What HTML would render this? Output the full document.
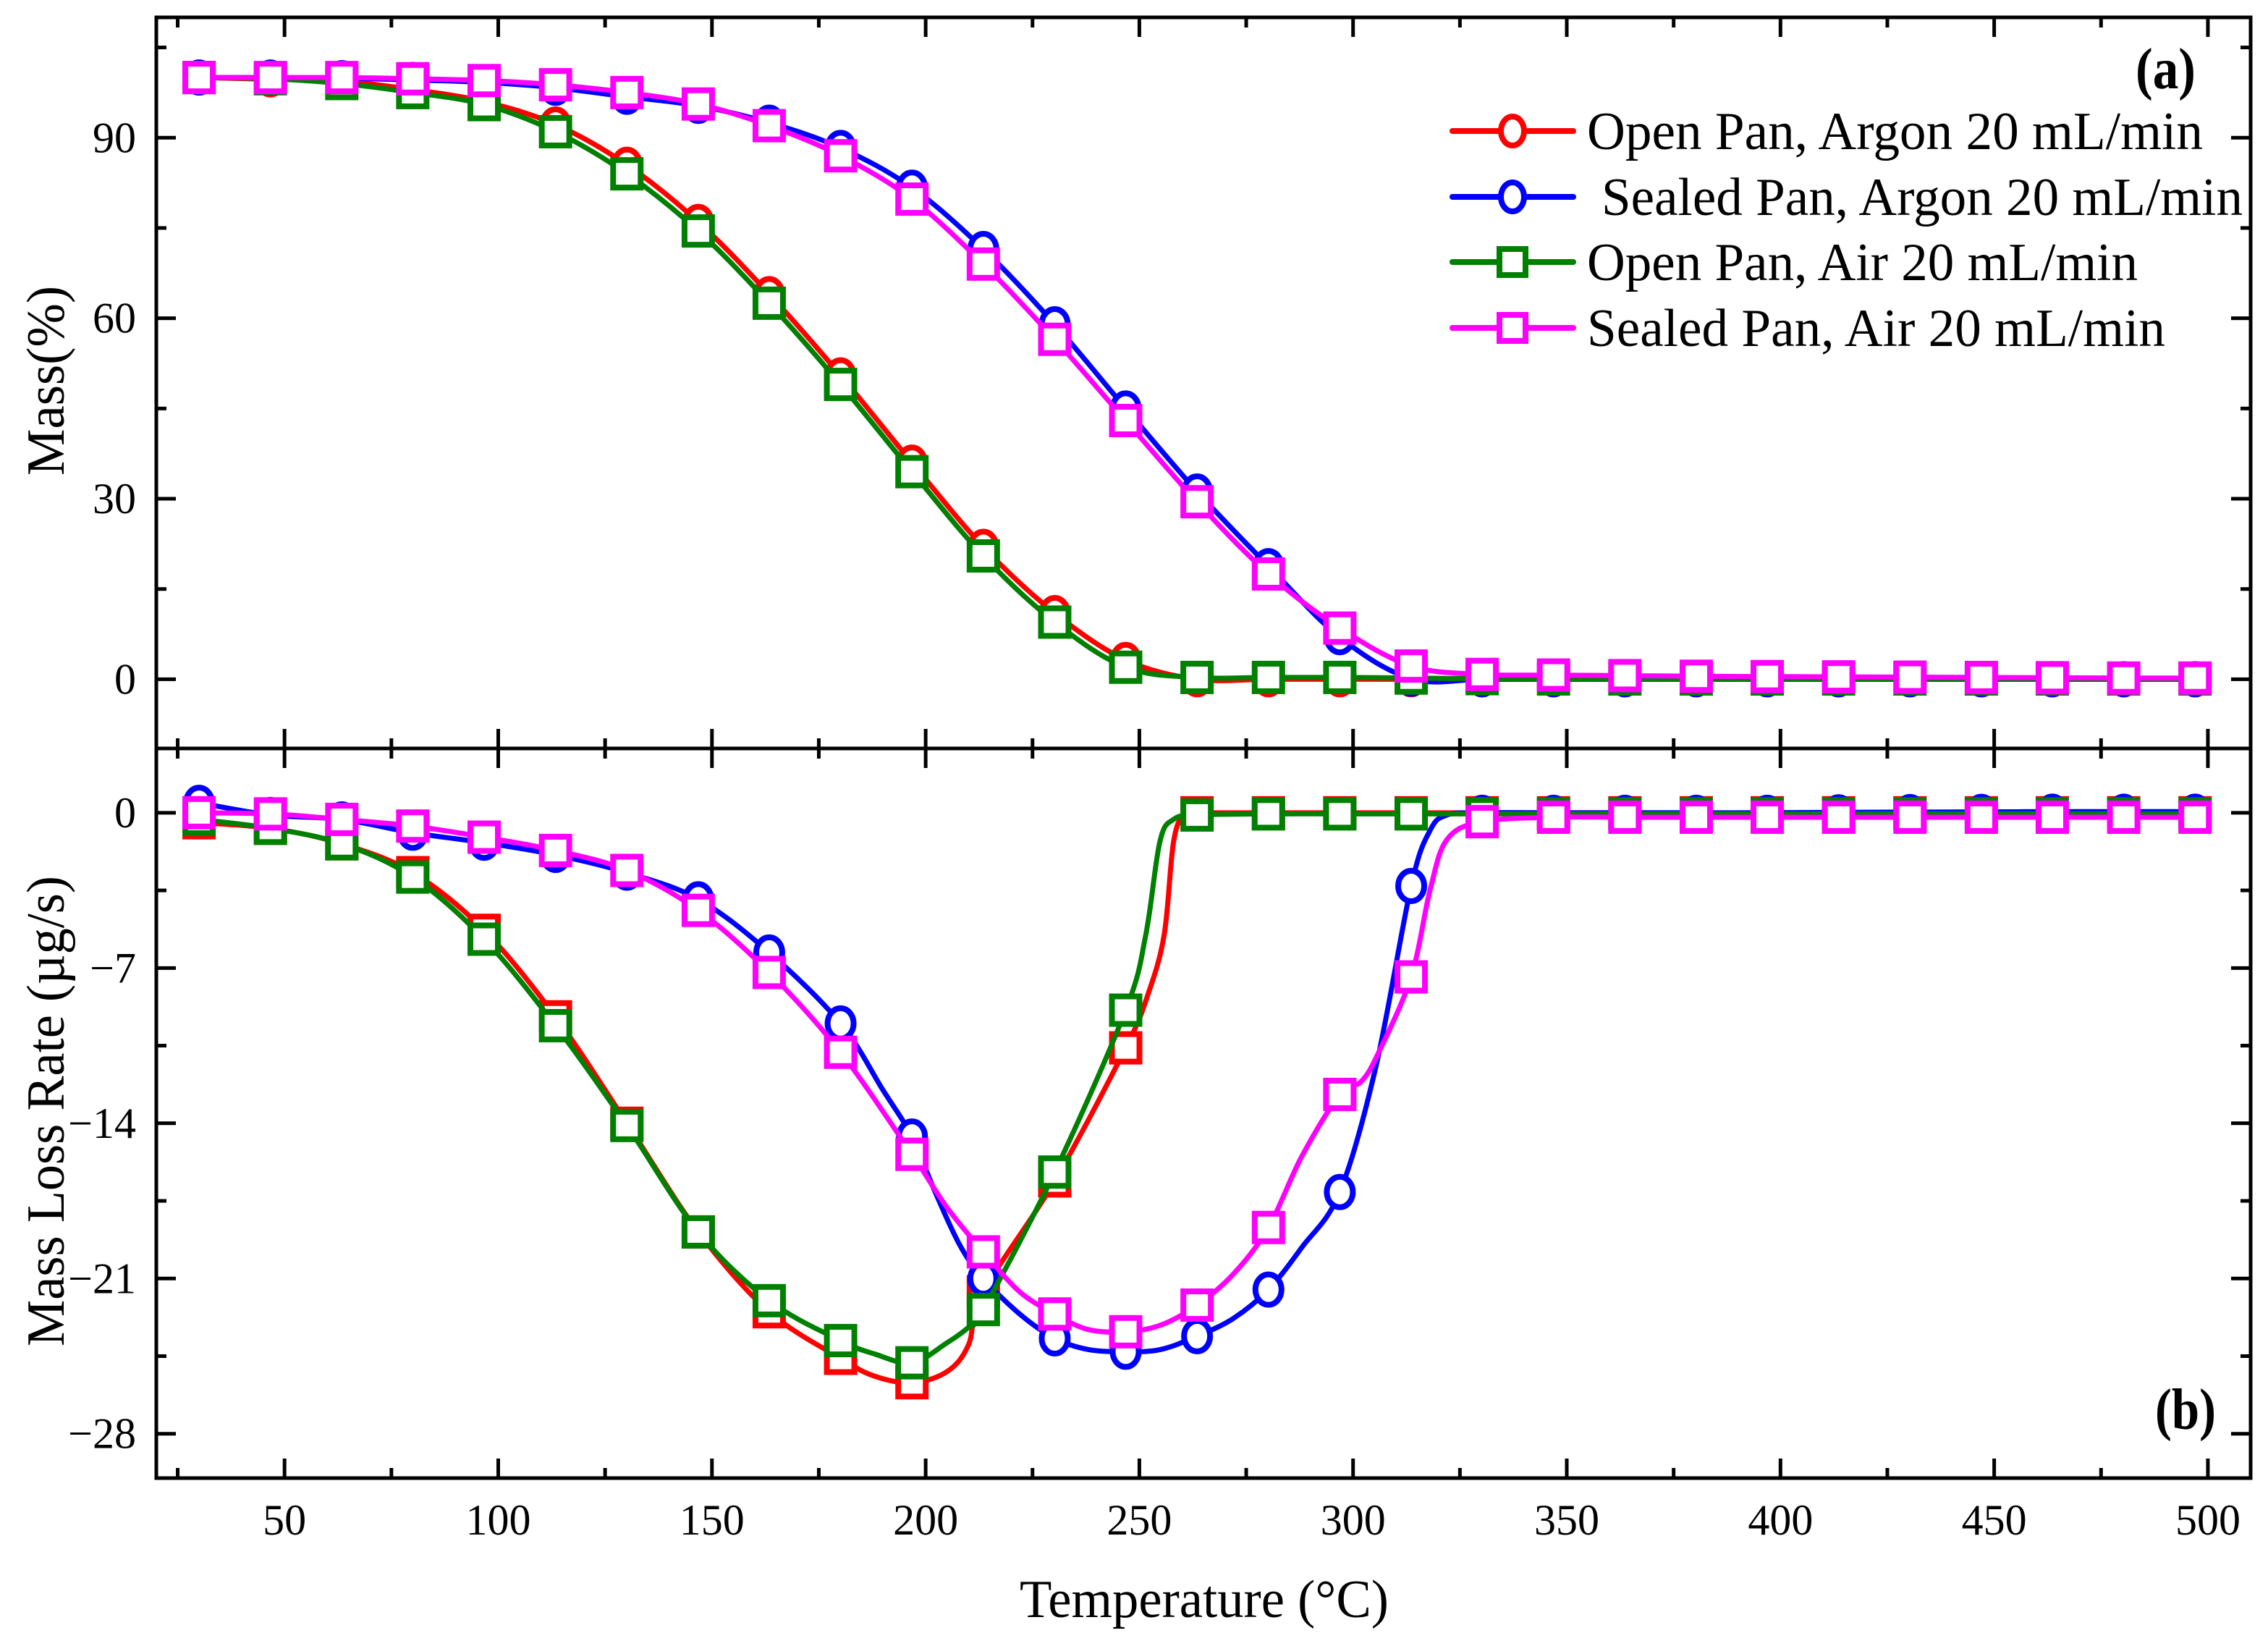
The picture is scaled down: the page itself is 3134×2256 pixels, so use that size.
<!DOCTYPE html>
<html><head><meta charset="utf-8">
<style>
html,body{margin:0;padding:0;background:#fff;}
svg{display:block;font-family:"Liberation Serif",serif;}
</style></head>
<body>
<svg id="chart" width="3134" height="2256" viewBox="0 0 3134 2256" xmlns="http://www.w3.org/2000/svg">
<rect x="0" y="0" width="3134" height="2256" fill="#fff"/>
<g id="plot"></g>
<g id="axes"></g>
<text x="1664" y="2234" font-size="74" text-anchor="middle" textLength="510" lengthAdjust="spacingAndGlyphs">Temperature (°C)</text>
<text transform="translate(88,526) rotate(-90)" font-size="74" text-anchor="middle" textLength="262" lengthAdjust="spacingAndGlyphs">Mass(%)</text>
<text transform="translate(88,1535) rotate(-90)" font-size="74" text-anchor="middle" textLength="650" lengthAdjust="spacingAndGlyphs">Mass Loss Rate (µg/s)</text>
<text x="2951" y="122" font-size="80" font-weight="bold" textLength="83" lengthAdjust="spacingAndGlyphs">(a)</text>
<text x="2978" y="1974" font-size="80" font-weight="bold" textLength="84" lengthAdjust="spacingAndGlyphs">(b)</text>
<g id="legend"></g>
</svg>
<script>
const markerT=[30,46.7,63.4,80,96.7,113.4,130.1,146.8,163.4,180.1,196.8,213.5,230.2,246.8,263.5,280.2,296.9,313.6,330.2,346.9,363.6,380.3,396.9,413.6,430.3,447.0,463.6,480.3,497.0];
// Top panel mass (%), at markerT
const massRed=[100,99.7,99.4,98,96,92.2,85.5,76,64,50.5,36,22,11,3.2,0,0,0,0,0,0,0,0,0,0,0,0,0,0,0];
const massBlue=[100,100,99.9,99.6,99.2,98.3,96.8,95.3,92.5,88.3,81.7,71.5,59,45,31.2,18.8,7,0.1,0,0,0,0,0,0,0,0,0,0,0];
const massGreen=[100,99.8,99,97.5,95.5,91,84,74.5,62.5,49,34.5,20.5,9.5,2,0.3,0.3,0.3,0.2,0.1,0.05,0.05,0.05,0.05,0.05,0.05,0.05,0.05,0.05,0.05];
const massMag=[100,100,100,99.8,99.5,98.8,97.5,95.6,92,87,79.8,69,56.5,43,29.5,17.5,8.5,2.2,0.8,0.7,0.6,0.5,0.45,0.4,0.35,0.3,0.25,0.2,0.2];
// Bottom panel rate (µg/s)
const rateRedT=[30,46.7,63.4,80,96.7,113.4,130.1,146.8,163.4,180.1,188,196.8,205,210,213.5,230.2,246.8,252,255.8,258,260.5,263.5,280.2,296.9,313.6,330.2,346.9,363.6,380.3,396.9,413.6,430.3,447.0,463.6,480.3,497.0];
const rateRed=[-0.45,-0.7,-1.4,-2.7,-5.3,-9.2,-14.0,-18.9,-22.5,-24.6,-25.4,-25.7,-25.2,-24.0,-21.6,-16.6,-10.6,-8.2,-5.5,-1.3,-0.05,0,0,0,0,0,0,0,0,0,0,0,0,0,0,0];
const rateGreenT=[30,46.7,63.4,80,96.7,113.4,130.1,146.8,163.4,180.1,188,196.8,205,210,213.5,230.2,246.8,251.5,254.8,258,263.5,280.2,296.9,313.6,330.2,346.9,363.6,380.3,396.9,413.6,430.3,447.0,463.6,480.3,497.0];
const rateGreen=[-0.3,-0.7,-1.4,-2.9,-5.7,-9.6,-14.1,-18.9,-22.0,-23.8,-24.4,-24.8,-23.9,-23.2,-22.4,-16.2,-8.9,-5.5,-1.3,-0.3,-0.1,-0.05,-0.05,-0.05,-0.05,-0.05,-0.05,-0.05,-0.05,-0.05,-0.05,-0.05,-0.05,-0.05,-0.05];
const rateBlueT=[30,46.7,63.4,80,96.7,113.4,130.1,146.8,163.4,180.1,190,196.8,202,208,213.5,222,230.2,238,246.8,255,263.5,272,280.2,288,296.9,305.4,313.6,318,322,330.2,346.9,363.6,380.3,396.9,413.6,430.3,447.0,463.6,480.3,497.0];
const rateBlue=[0.45,-0.1,-0.3,-0.9,-1.35,-1.9,-2.7,-3.9,-6.3,-9.5,-12.5,-14.6,-17,-19.5,-21.0,-22.6,-23.7,-24.2,-24.3,-24.2,-23.6,-22.8,-21.5,-19.6,-17.1,-11.4,-3.3,-0.8,-0.1,0,0,0,0,0,0.02,0.03,0.04,0.05,0.05,0.05];
const rateMagT=[30,46.7,63.4,80,96.7,113.4,130.1,146.8,163.4,180.1,196.8,205,213.5,222,230.2,238,246.8,255,263.5,272,280.2,288,296.9,302,306,313.6,318,322,330.2,346.9,363.6,380.3,396.9,413.6,430.3,447.0,463.6,480.3,497.0];
const rateMag=[0,-0.05,-0.3,-0.6,-1.1,-1.7,-2.6,-4.4,-7.2,-10.8,-15.4,-17.8,-19.8,-21.6,-22.6,-23.3,-23.4,-23.1,-22.2,-20.8,-18.7,-15.5,-12.7,-12.1,-10.8,-7.4,-3.5,-1.2,-0.4,-0.2,-0.2,-0.2,-0.2,-0.2,-0.2,-0.2,-0.2,-0.2,-0.2];
const xTicks=[50,100,150,200,250,300,350,400,450,500];
const topTicks=[0,30,60,90];
const botTicks=[0,-7,-14,-21,-28];
const legendLabels=["Open Pan, Argon 20 mL/min","Sealed Pan, Argon 20 mL/min","Open Pan, Air 20 mL/min","Sealed Pan, Air 20 mL/min"];

const NS="http://www.w3.org/2000/svg";
const L=216,R=3110,T1=24,B1=1034,T2=1034,B2=2042;
const X0=20,X1=510;
const sx=t=>L+(t-X0)*(R-L)/(X1-X0);
const syTop=v=>B1-(v-(-11.5))*(B1-T1)/(110-(-11.5));
const syBot=v=>B2-(v-(-30))*(B2-T2)/(2.9-(-30));
function el(tag,attrs,parent){const e=document.createElementNS(NS,tag);for(const k in attrs)e.setAttribute(k,attrs[k]);parent.appendChild(e);return e;}
const plot=document.getElementById('plot'),axes=document.getElementById('axes');

function smoothPath(pts){
  let d=`M${pts[0][0].toFixed(1)},${pts[0][1].toFixed(1)}`;
  for(let i=0;i<pts.length-1;i++){
    const p0=pts[Math.max(i-1,0)],p1=pts[i],p2=pts[i+1],p3=pts[Math.min(i+2,pts.length-1)];
    const c1x=p1[0]+(p2[0]-p0[0])/6,c1y=p1[1]+(p2[1]-p0[1])/6;
    const c2x=p2[0]-(p3[0]-p1[0])/6,c2y=p2[1]-(p3[1]-p1[1])/6;
    d+=`C${c1x.toFixed(1)},${c1y.toFixed(1)} ${c2x.toFixed(1)},${c2y.toFixed(1)} ${p2[0].toFixed(1)},${p2[1].toFixed(1)}`;
  }
  return d;
}
function drawSeries(ts,vs,sy,color,shape,name){
  const g=el('g',{},plot);
  
  
  const pts=ts.map((t,i)=>[sx(t),sy(vs[i])]);
  const p=el('path',{d:smoothPath(pts),fill:'none',stroke:color,'stroke-width':7,'stroke-linejoin':'round'},g);
  
  
  ts.forEach((t,i)=>{
    if(!markerT.some(m=>Math.abs(m-t)<0.05))return;
    const [x,y]=pts[i];
    let m;
    if(shape==='circle') m=el('ellipse',{cx:x,cy:y,rx:18,ry:21,fill:'#fff',stroke:color,'stroke-width':8},g);
    else m=el('rect',{x:x-19,y:y-19,width:38,height:38,fill:'#fff',stroke:color,'stroke-width':8},g);
    
    
  });
}
drawSeries(markerT,massRed,syTop,'#ff0000','circle','mass-open-argon');
drawSeries(markerT,massBlue,syTop,'#0000ff','circle','mass-sealed-argon');
drawSeries(markerT,massGreen,syTop,'#008000','square','mass-open-air');
drawSeries(markerT,massMag,syTop,'#ff00ff','square','mass-sealed-air');
drawSeries(rateRedT,rateRed,syBot,'#ff0000','square','rate-open-argon');
drawSeries(rateBlueT,rateBlue,syBot,'#0000ff','circle','rate-sealed-argon');
drawSeries(rateGreenT,rateGreen,syBot,'#008000','square','rate-open-air');
drawSeries(rateMagT,rateMag,syBot,'#ff00ff','square','rate-sealed-air');

const f1=el('rect',{x:L,y:T1,width:R-L,height:B2-T1,fill:'none',stroke:'#000','stroke-width':5},axes);

const dv=el('line',{x1:L,x2:R,y1:B1,y2:B1,stroke:'#000','stroke-width':5},axes);

function tick(x1,y1,x2,y2){el('line',{x1,y1,x2,y2,stroke:'#000','stroke-width':5},axes);}
for(let t=25;t<=510;t+=25){
  const x=sx(t),len=(t%50===0)?27:14;
  tick(x,B2,x,B2-len);tick(x,T1,x,T1+len);tick(x,B1,x,B1-len);tick(x,B1,x,B1+len);
}
xTicks.forEach(t=>{
  const tx=el('text',{x:sx(t),y:2120,'font-size':60,'text-anchor':'middle'},axes);
  tx.textContent=t;
  
});
for(let v=-15;v<=110;v+=15){
  const y=syTop(v);if(y>B1-2||y<T1+2)continue;
  const len=(v%30===0)?27:14;
  tick(L,y,L+len,y);tick(R,y,R-len,y);
}
topTicks.forEach(v=>{
  const tx=el('text',{x:188,y:syTop(v)+20,'font-size':60,'text-anchor':'end'},axes);
  tx.textContent=v;
  
});
for(let v=0;v>=-30;v-=3.5){
  const y=syBot(v);if(y>B2-2)continue;
  const len=(Math.abs(v)%7===0)?27:14;
  tick(L,y,L+len,y);tick(R,y,R-len,y);
}
botTicks.forEach(v=>{
  const tx=el('text',{x:188,y:syBot(v)+20,'font-size':60,'text-anchor':'end'},axes);
  tx.textContent=v===0?'0':'\u2212'+Math.abs(v);
  
});
const lg=document.getElementById('legend');
const lcol=['#ff0000','#0000ff','#008000','#ff00ff'],lsh=['circle','circle','square','square'];
const ly=[181,272,362,453];
const lx=[2193,2213,2193,2193],lw=[851,886,761,799];
legendLabels.forEach((lab,i)=>{
  const g=el('g',{},lg);
  
  
  el('line',{x1:2007,x2:2174,y1:ly[i],y2:ly[i],stroke:lcol[i],'stroke-width':8,'stroke-linecap':'round'},g);
  if(lsh[i]==='circle') el('ellipse',{cx:2090,cy:ly[i],rx:16,ry:20,fill:'#fff',stroke:lcol[i],'stroke-width':8},g);
  else el('rect',{x:2072,y:ly[i]-18,width:36,height:36,fill:'#fff',stroke:lcol[i],'stroke-width':8},g);
  const tx=el('text',{x:lx[i],y:ly[i]+25,'font-size':74,textLength:lw[i],lengthAdjust:'spacingAndGlyphs'},g);
  tx.textContent=lab;
  
  
});
</script>
</body></html>
